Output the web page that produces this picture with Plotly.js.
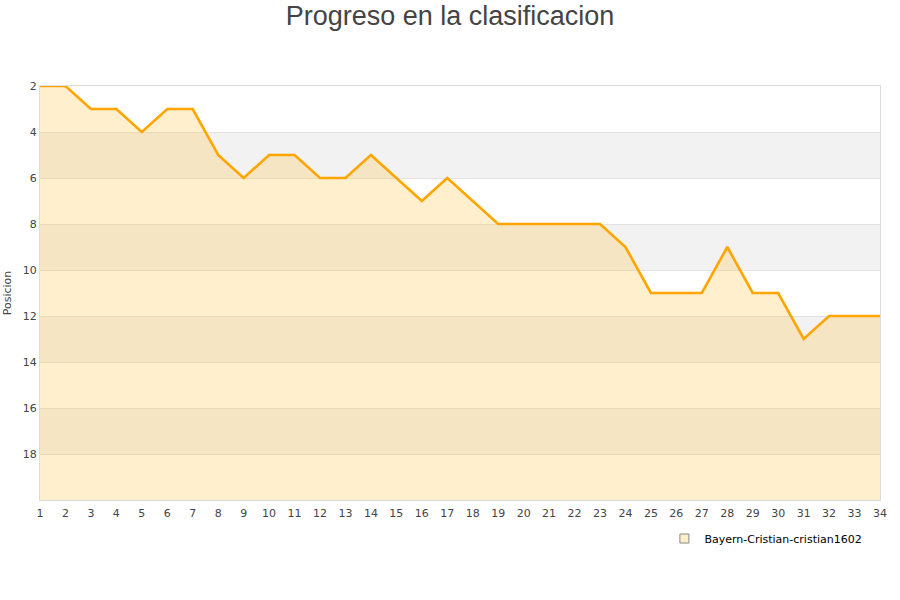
<!DOCTYPE html>
<html>
<head>
<meta charset="utf-8">
<script src="https://cdn.plot.ly/plotly-3.0.1.min.js"></script>
<style>html,body{margin:0;padding:0;background:#fff}#chart{width:900px;height:600px}</style>
</head>
<body>
<div id="chart"></div>
<script>
const jornadas = [1,2,3,4,5,6,7,8,9,10,11,12,13,14,15,16,17,18,19,20,21,22,23,24,25,26,27,28,29,30,31,32,33,34];
const posicion = [2,2,3,3,4,3,3,5,6,5,5,6,6,5,6,7,6,7,8,8,8,8,8,9,11,11,11,9,11,11,13,12,12,12];
const seriesName = 'Bayern-Cristian-cristian1602';
const bottomPos = 20;
const yTicks = [2,4,6,8,10,12,14,16,18];
const bands = [[4,6],[8,10],[12,14],[16,18]];

const traces = [
  {x: jornadas, y: jornadas.map(() => bottomPos), mode: 'lines', line: {width: 0, color: 'rgba(0,0,0,0)'}, showlegend: false, hoverinfo: 'skip'},
  {x: jornadas, y: posicion, mode: 'lines', fill: 'tonexty', fillcolor: 'rgba(255,190,50,0.25)',
   line: {color: '#ffa500', width: 2.6}, name: seriesName, showlegend: false},
  {x: [null], y: [null], mode: 'markers', name: seriesName,
   marker: {symbol: 'square', size: 9, color: '#ffeecc', line: {color: '#888', width: 1}}}
];

const shapes = bands.map(b => ({type: 'rect', layer: 'below', xref: 'paper', yref: 'y', x0: 0, x1: 1, y0: b[0], y1: b[1], fillcolor: '#f2f2f2', line: {width: 0}}));

const layout = {
  width: 900, height: 600,
  margin: {l: 40, r: 20, t: 86, b: 100},
  paper_bgcolor: '#fff', plot_bgcolor: '#fff',
  font: {family: 'DejaVu Sans, sans-serif', color: '#444', size: 11},
  title: {text: 'Progreso en la clasificacion', x: 0.5, xanchor: 'center', y: 0.974, yanchor: 'middle',
          font: {family: 'Liberation Sans, Arial, sans-serif', size: 27, color: '#444'}},
  xaxis: {range: [1, 34], tickvals: jornadas, ticktext: jornadas.map(String), showgrid: false, zeroline: false,
          showline: true, linecolor: '#ddd', mirror: true, ticks: '', ticklabelstandoff: 3, tickfont: {size: 11, color: '#444'}},
  yaxis: {range: [bottomPos, 2], tickvals: yTicks, showgrid: true, gridcolor: '#e2e2e2', zeroline: false,
          showline: true, linecolor: '#ddd', mirror: true, ticks: '', tickfont: {size: 11, color: '#444'},
          title: {text: 'Posicion', font: {size: 11, color: '#444'}, standoff: 8}},
  shapes: shapes,
  showlegend: true,
  legend: {x: 0.985, xanchor: 'right', y: -0.058, yanchor: 'top', orientation: 'h', font: {size: 11, color: '#000'}, bgcolor: 'rgba(0,0,0,0)'}
};

Plotly.newPlot('chart', traces, layout, {displayModeBar: false, staticPlot: true});
</script>
</body>
</html>
